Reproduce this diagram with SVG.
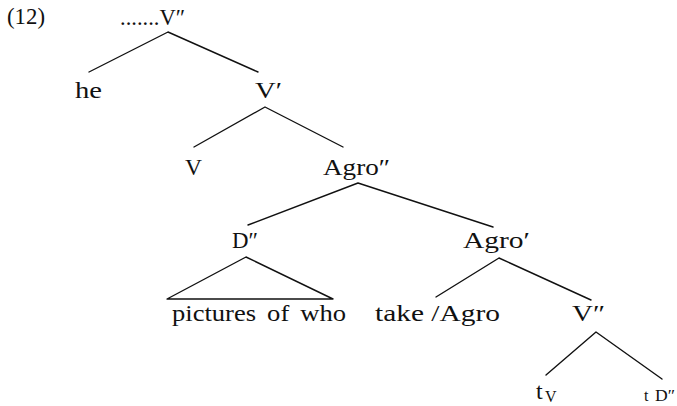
<svg xmlns="http://www.w3.org/2000/svg" width="677" height="406" viewBox="0 0 677 406">
<style>
text{font-family:"Liberation Serif","Times New Roman",serif;font-size:24px;fill:#111}
.sm{font-size:16px}
.ln{stroke:#111;stroke-width:1.4;fill:none;stroke-linecap:round;stroke-linejoin:round}
</style>
<rect width="677" height="406" fill="#fff"/>
<text x="7" y="24" textLength="38" lengthAdjust="spacingAndGlyphs">(12)</text>
<g id="n-top"><text x="120" y="25" textLength="65" lengthAdjust="spacingAndGlyphs">.......V″</text></g>
<g id="n-he"><text x="75" y="98" textLength="27" lengthAdjust="spacingAndGlyphs">he</text></g>
<g id="n-vbar"><text x="255" y="98" textLength="27" lengthAdjust="spacingAndGlyphs">V′</text></g>
<g id="n-v"><text x="185" y="175" textLength="17" lengthAdjust="spacingAndGlyphs">V</text></g>
<g id="n-agro2"><text x="323" y="175" textLength="67" lengthAdjust="spacingAndGlyphs">Agro″</text></g>
<g id="n-d2"><text x="232" y="248" textLength="26" lengthAdjust="spacingAndGlyphs">D″</text></g>
<g id="n-agro1"><text x="463" y="248" textLength="67" lengthAdjust="spacingAndGlyphs">Agro′</text></g>
<g id="n-pic"><text x="172" y="321" word-spacing="4" textLength="174" lengthAdjust="spacingAndGlyphs">pictures of who</text></g>
<g id="n-take"><text x="375" y="321" textLength="125" lengthAdjust="spacingAndGlyphs">take /Agro</text></g>
<g id="n-v2"><text x="572" y="321" textLength="33" lengthAdjust="spacingAndGlyphs">V″</text></g>
<g id="n-tv"><text x="536" y="399" font-size="26">t</text><text class="sm" x="545" y="402" font-size="14">V</text></g>
<g id="n-td"><text class="sm" x="644" y="401">t</text><text class="sm" x="655" y="401" textLength="20" lengthAdjust="spacingAndGlyphs">D″</text></g>
<g id="connectors" class="ln">
<polyline points="89,72 168,32 258,72"/>
<polyline points="194,147 265,107 343,147"/>
<polyline points="248,225 358,183 493,227"/>
<polygon points="167,299 246,257 333,299"/>
<polyline points="436,297 499,258 591,300"/>
<polyline points="546,375 596,332 662,379"/>
</g>
</svg>
